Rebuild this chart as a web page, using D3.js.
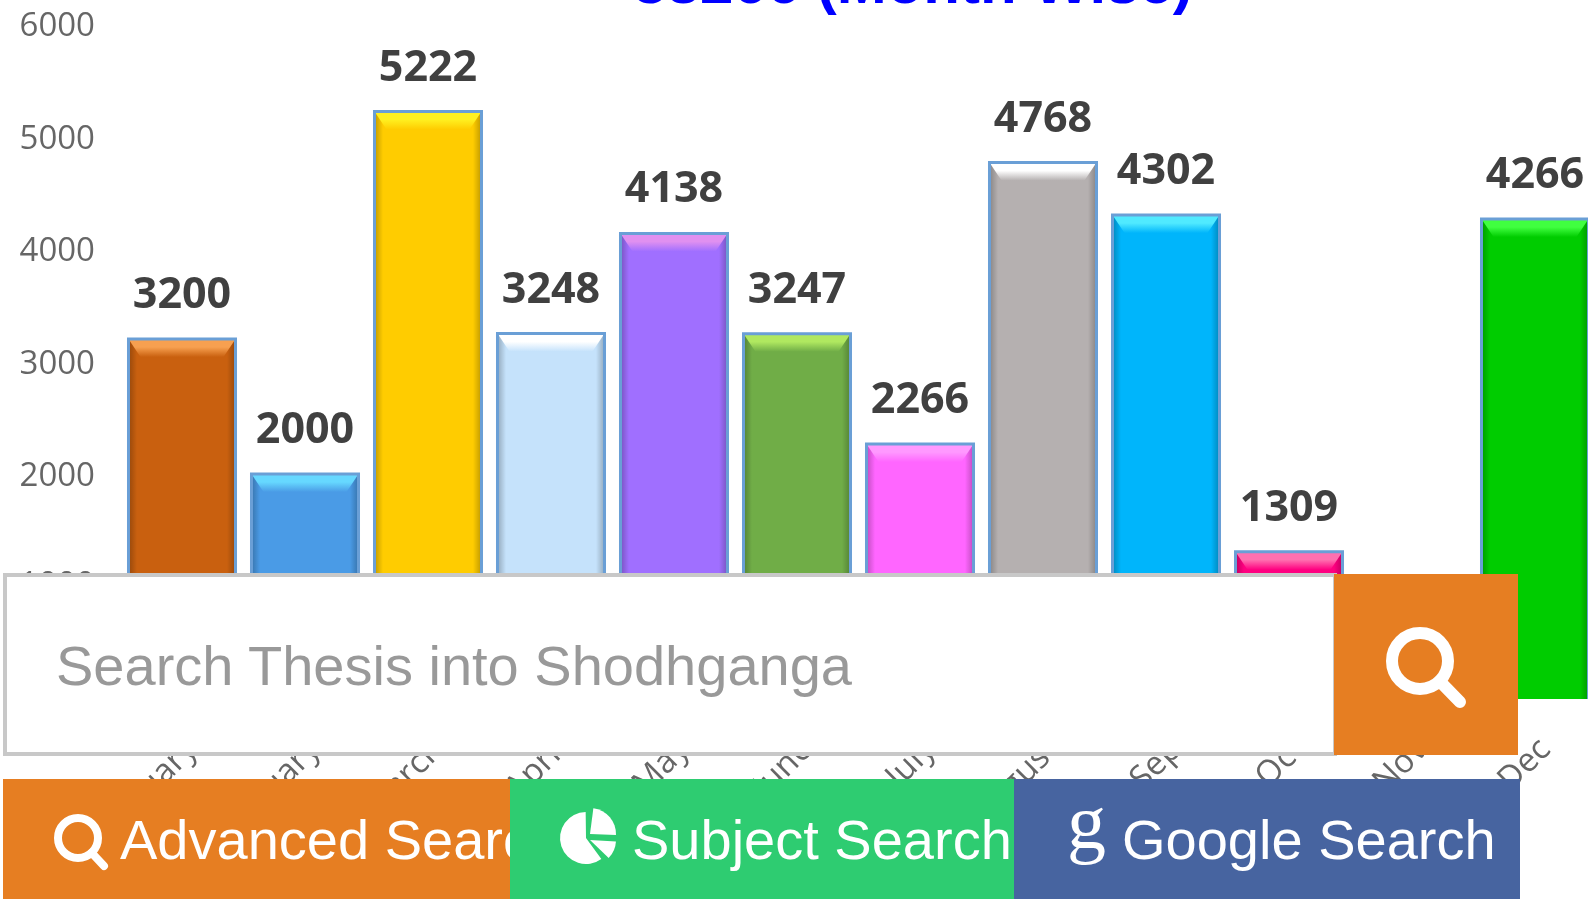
<!DOCTYPE HTML>
<html>
<head>
<meta charset="utf-8">
<title>Month wise chart</title>
<style>
  html, body { margin: 0; padding: 0; background: #fff; overflow: hidden; }
  svg { display: block; filter: blur(0.7px); }
  .tick text { fill: #666; font-family: "Open Sans", sans-serif; font-size: 33px; }
  .val { fill: #404040; font-family: "Open Sans", sans-serif; font-size: 43px; font-weight: 700; text-anchor: middle; }
  .title { fill: #0000ff; font-family: "Liberation Sans", sans-serif; font-size: 60px; font-weight: 700; text-anchor: middle; }
  .ui { font-family: "Liberation Sans", sans-serif; font-size: 56px; }
</style>
</head>
<body>
<div id="chart"></div>
<script src="https://d3js.org/d3.v7.min.js"></script>
<script>
// values (Nov is hidden behind the search button, estimated)
var months = ["January", "February", "March", "April", "May", "June", "July", "August", "Sep", "Oct", "Nov", "Dec"];
var counts = [3200, 2000, 5222, 3248, 4138, 3247, 2266, 4768, 4302, 1309, 300, 4266];
var barColors = ["#c9600f", "#4a9be6", "#ffcc00", "#c5e2fb", "#a06fff", "#70ad47", "#ff66ff", "#b5b0b0", "#00b5fb", "#ff0080", "#7f7f7f", "#00cc00"];
var topColors = ["#f7a050", "#66d8ff", "#fff020", "#ffffff", "#e090f0", "#b0e860", "#ff99ff", "#ffffff", "#50eaff", "#ff70b0", "#bbbbbb", "#40ff40"];
var yTicks = [0, 1000, 2000, 3000, 4000, 5000, 6000];
var chartTitle = "38266 (Month Wise)";

var width = 1588, height = 908;

var svg = d3.select("#chart").append("svg")
  .attr("width", width)
  .attr("height", height);

var defs = svg.append("defs");

var x = d3.scaleBand()
  .domain(months)
  .range([120.5, 1596.5])
  .paddingInner(0.13)
  .paddingOuter(0.065);

var y = d3.scaleLinear()
  .domain([0, 6000])
  .range([699, 24]);

// side shading shared by all bars
var side = defs.append("linearGradient").attr("id", "side");
side.append("stop").attr("offset", 0).attr("stop-color", "#000").attr("stop-opacity", 0.25);
side.append("stop").attr("offset", 0.08).attr("stop-color", "#000").attr("stop-opacity", 0);
side.append("stop").attr("offset", 0.92).attr("stop-color", "#000").attr("stop-opacity", 0);
side.append("stop").attr("offset", 1).attr("stop-color", "#000").attr("stop-opacity", 0.25);

months.forEach(function(m, i) {
  var g = defs.append("linearGradient").attr("id", "top" + i).attr("x2", 0).attr("y2", 1);
  g.append("stop").attr("offset", 0).attr("stop-color", topColors[i]);
  g.append("stop").attr("offset", 0.45).attr("stop-color", topColors[i]);
  g.append("stop").attr("offset", 1).attr("stop-color", barColors[i]);
});

svg.append("text")
  .attr("class", "title")
  .attr("x", 913)
  .attr("y", 3)
  .text(chartTitle);

var yAxis = svg.append("g")
  .attr("transform", "translate(100,1)")
  .call(d3.axisLeft(y).tickValues(yTicks).tickSize(0).tickPadding(5).tickFormat(d3.format("d")));
yAxis.select(".domain").remove();
yAxis.selectAll(".tick").filter(function(d) { return d === 0; }).remove();
// the 1000 label just peeks out above the search box
yAxis.selectAll(".tick").filter(function(d) { return d === 1000; }).select("text").attr("y", -4);

var xAxis = svg.append("g")
  .attr("transform", "translate(0," + y(0) + ")")
  .call(d3.axisBottom(x).tickSize(0));
xAxis.select(".domain").remove();
xAxis.selectAll("text")
  .attr("y", 0)
  .attr("dy", 0)
  .style("text-anchor", "end")
  .attr("transform", "translate(17,52) rotate(-45)");

var bars = svg.append("g").selectAll("g")
  .data(months)
  .enter().append("g")
  .attr("transform", function(d) { return "translate(" + x(d) + ",0)"; });

bars.append("rect")
  .attr("width", x.bandwidth())
  .attr("y", function(d, i) { return y(counts[i]); })
  .attr("height", function(d, i) { return y(0) - y(counts[i]); })
  .attr("fill", function(d, i) { return barColors[i]; });

bars.append("rect")
  .attr("width", x.bandwidth())
  .attr("y", function(d, i) { return y(counts[i]); })
  .attr("height", function(d, i) { return y(0) - y(counts[i]); })
  .attr("fill", "url(#side)");

// bevel along the top of each bar
bars.append("path")
  .attr("fill", function(d, i) { return "url(#top" + i + ")"; })
  .attr("d", function(d, i) {
    var t = y(counts[i]), w = x.bandwidth();
    return "M0," + t + "L" + w + "," + t + "L" + (w - 12) + "," + (t + 18) + "L12," + (t + 18) + "Z";
  });

// outline on the top and sides only, the bars have no bottom edge
bars.append("path")
  .attr("fill", "none")
  .attr("stroke", "#6a9fd6")
  .attr("stroke-width", 3)
  .attr("d", function(d, i) {
    var t = y(counts[i]), w = x.bandwidth();
    return "M0," + y(0) + "L0," + t + "L" + w + "," + t + "L" + w + "," + y(0);
  });

bars.append("text")
  .attr("class", "val")
  .attr("x", x.bandwidth() / 2)
  .attr("y", function(d, i) { return y(counts[i]) - 31; })
  .text(function(d, i) { return counts[i]; })
  .filter(function(d) { return d === "Nov"; })
  .remove();

// search form drawn over the chart
var form = svg.append("g");

form.append("rect")
  .attr("x", 5).attr("y", 575)
  .attr("width", 1330).attr("height", 179)
  .attr("fill", "#fff")
  .attr("stroke", "#c8c8c8")
  .attr("stroke-width", 4);

form.append("text")
  .attr("class", "ui")
  .attr("x", 56).attr("y", 685)
  .attr("fill", "#999")
  .text("Search Thesis into Shodhganga");

form.append("rect")
  .attr("x", 1334).attr("y", 574)
  .attr("width", 184).attr("height", 181)
  .attr("fill", "#e67e22");

function searchIcon(parent, cx, cy, r, sw, hx, hy) {
  var a = Math.atan2(hy - cy, hx - cx);
  parent.append("circle")
    .attr("cx", cx).attr("cy", cy).attr("r", r)
    .attr("fill", "none").attr("stroke", "#fff").attr("stroke-width", sw);
  parent.append("line")
    .attr("x1", cx + r * Math.cos(a)).attr("y1", cy + r * Math.sin(a))
    .attr("x2", hx).attr("y2", hy)
    .attr("stroke", "#fff").attr("stroke-width", sw).attr("stroke-linecap", "round");
}
searchIcon(form, 1420, 661, 28, 12, 1460, 702);

// button row
var btnNames = ["Advanced Search", "Subject Search", "Google Search"];
var btnColors = ["#e67e22", "#2ecc71", "#4764a0"];
var btnEdges = [3, 510, 1014, 1520];
var btnText = [120, 632, 1122];

var btn = svg.append("g").selectAll("g")
  .data(btnNames)
  .enter().append("g");

btn.append("rect")
  .attr("x", function(d, i) { return btnEdges[i]; })
  .attr("y", 779)
  .attr("width", function(d, i) { return btnEdges[i + 1] - btnEdges[i]; })
  .attr("height", 120)
  .attr("fill", function(d, i) { return btnColors[i]; });

btn.append("text")
  .attr("class", "ui")
  .attr("x", function(d, i) { return btnText[i]; })
  .attr("y", 859)
  .attr("fill", "#fff")
  .text(function(d) { return d; });

searchIcon(d3.select(btn.nodes()[0]), 78, 838, 20, 8, 104, 866);

var arc = d3.arc();
var pieSlices = [[0.12, 1.62], [1.62, 2.35], [2.5, 6.28]];
var pieOff = [[4, -4], [4, 2], [0, 0]];
var pieIcon = d3.select(btn.nodes()[1]).append("g").attr("transform", "translate(586,838)");
pieIcon.selectAll("path")
  .data(pieSlices)
  .enter().append("path")
  .attr("fill", "#fff")
  .attr("transform", function(d, i) { return "translate(" + pieOff[i] + ")"; })
  .attr("d", function(d) {
    return arc({ innerRadius: 0, outerRadius: 26, startAngle: d[0], endAngle: d[1], padAngle: 0.02 });
  });

d3.select(btn.nodes()[2]).append("text")
  .attr("x", 1067).attr("y", 848)
  .attr("fill", "#fff")
  .style("font-family", '"Liberation Serif", serif')
  .style("font-size", "78px")
  .text("g");
</script>
</body>
</html>
